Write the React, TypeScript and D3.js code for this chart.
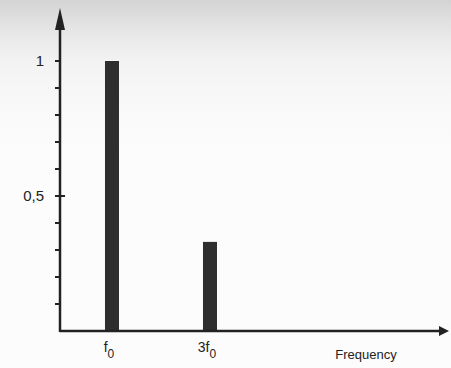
import React from "react";
import * as d3 from "d3";

const harmonics = [1, 3];
const amplitudes = [1.0, 0.33];
const harmonicLabels = ["f", "3f"];
const yTickValues = [0.1, 0.2, 0.3, 0.4, 0.5, 0.6, 0.7, 0.8, 0.9, 1.0];
const yTickLabels: { v: number; t: string }[] = [
  { v: 1, t: "1" },
  { v: 0.5, t: "0,5" },
];
const xAxisTitle = "Frequency";

export default function App() {
  const W = 451, H = 368;
  const x0 = 60, y0 = 331;
  const x = d3.scaleLinear().domain([-0.061, 7.837]).range([x0, 447]);
  const y = d3.scaleLinear().domain([0, 1]).range([y0, 61]);
  const font = "'Liberation Sans', Arial, sans-serif";
  return (
    <svg width={W} height={H} style={{ position: "absolute", left: 0, top: 0 }}>
      <defs>
        <linearGradient id="bg" x1="0" y1="0" x2="0" y2="1">
          <stop offset="0" stopColor="#b8b8b8" stopOpacity={0.6} />
          <stop offset="0.35" stopColor="#d8d8d8" stopOpacity={0.25} />
          <stop offset="1" stopColor="#ffffff" stopOpacity={0} />
        </linearGradient>
      </defs>
      <rect width={W} height={H} fill="#fcfcfc" />
      <rect width={W} height={180} fill="url(#bg)" />
      {harmonics.map((h, i) => (
        <rect
          key={h}
          x={x(h) - 7}
          y={y(amplitudes[i])}
          width={14}
          height={y(0) - y(amplitudes[i])}
          fill="#2e2e2e"
        />
      ))}
      <line x1={x0} y1={y0} x2={441} y2={y0} stroke="#222" strokeWidth={2.5} />
      <path d={`M449,${y0} L439,${y0 - 5} L439,${y0 + 5} Z`} fill="#222" />
      <line x1={x0} y1={y0 + 1} x2={x0} y2={22} stroke="#222" strokeWidth={2.5} />
      <path d={`M${x0},8 L${x0 - 5},30 L${x0 + 5},30 Z`} fill="#222" />
      {yTickValues.map((v) => (
        <line key={v} x1={x0 - 5} x2={x0 + (v === 0.5 ? 5 : 0)} y1={y(v)} y2={y(v)} stroke="#222" strokeWidth={2} />
      ))}
      {yTickLabels.map((t) => (
        <text key={t.t} x={x0 - 16} y={y(t.v) + 5} textAnchor="end" fontFamily={font} fontSize={15} fill="#222">
          {t.t}
        </text>
      ))}
      {harmonics.map((h, i) => (
        <text key={"l" + h} x={x(h) - 3} y={352} textAnchor="middle" fontFamily={font} fontSize={14} fill="#222">
          {harmonicLabels[i]}
          <tspan fontSize={12} dy={6}>0</tspan>
        </text>
      ))}
      <text x={366} y={359} textAnchor="middle" fontFamily={font} fontSize={13} fill="#222">
        {xAxisTitle}
      </text>
    </svg>
  );
}
